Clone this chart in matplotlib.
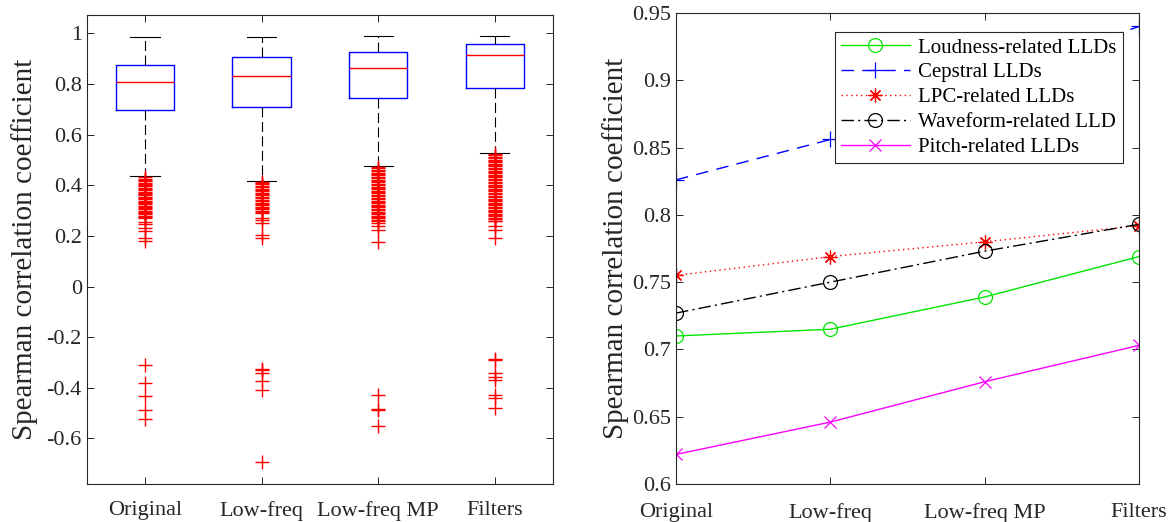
import matplotlib
matplotlib.use("Agg")
import matplotlib.pyplot as plt
import numpy as np

plt.rcParams['font.family'] = ['Liberation Serif', 'DejaVu Serif']
plt.rcParams['axes.unicode_minus'] = False

# ---------------- data ----------------
categories = ['Original', 'Low-freq', 'Low-freq MP', 'Filters']

# box statistics (left panel)
box_whishi = [0.987, 0.988, 0.991, 0.992]
box_q3 = [0.874, 0.907, 0.926, 0.958]
box_med = [0.807, 0.832, 0.863, 0.914]
box_q1 = [0.699, 0.711, 0.745, 0.784]
box_whislo = [0.435, 0.418, 0.476, 0.528]

fliers_original = [0.431, 0.426, 0.42, 0.416, 0.411, 0.405, 0.40, 0.396, 0.39, 0.386, 0.381,
                   0.375, 0.37, 0.366, 0.36, 0.355, 0.35, 0.346, 0.34, 0.336, 0.33, 0.325,
                   0.32, 0.316, 0.31, 0.305, 0.30, 0.296, 0.29, 0.285, 0.28, 0.276, 0.271,
                   0.254, 0.246, 0.232, 0.219, 0.193, 0.181,
                   -0.31, -0.38, -0.433, -0.487, -0.525]
fliers_lowfreq = [0.414, 0.409, 0.404, 0.398, 0.393, 0.387, 0.382, 0.376, 0.371, 0.365, 0.36,
                  0.354, 0.349, 0.343, 0.338, 0.332, 0.327, 0.321, 0.316, 0.31, 0.305, 0.299,
                  0.294, 0.291, 0.271, 0.264, 0.251, 0.203, 0.192,
                  -0.324, -0.33, -0.341, -0.374, -0.409, -0.694]
fliers_lowfreq_mp = [0.472, 0.467, 0.461, 0.456, 0.45, 0.445, 0.439, 0.434, 0.428, 0.423, 0.417,
                     0.412, 0.406, 0.401, 0.395, 0.39, 0.384, 0.379, 0.373, 0.368, 0.362, 0.357,
                     0.351, 0.346, 0.34, 0.335, 0.329, 0.324, 0.318, 0.313, 0.307, 0.302, 0.296,
                     0.291, 0.285, 0.28, 0.274, 0.269, 0.263, 0.258, 0.251,
                     0.238, 0.225, 0.176,
                     -0.43, -0.482, -0.486, -0.549]
fliers_filters = [0.524, 0.519, 0.513, 0.508, 0.502, 0.497, 0.491, 0.486, 0.48, 0.475, 0.469,
                  0.464, 0.458, 0.453, 0.447, 0.442, 0.436, 0.431, 0.425, 0.42, 0.414, 0.409,
                  0.403, 0.398, 0.392, 0.387, 0.381, 0.376, 0.37, 0.365, 0.359, 0.354, 0.348,
                  0.343, 0.337, 0.332, 0.326, 0.321, 0.315, 0.31, 0.304, 0.299, 0.293, 0.288,
                  0.282, 0.277, 0.271, 0.266, 0.26, 0.258,
                  0.238, 0.225, 0.192,
                  -0.286, -0.289, -0.341, -0.357, -0.371, -0.43, -0.441, -0.478]
fliers_all = [fliers_original, fliers_lowfreq, fliers_lowfreq_mp, fliers_filters]

left_yticks = [-0.6, -0.4, -0.2, 0, 0.2, 0.4, 0.6, 0.8, 1]
left_yticklabels = ['-0.6', '-0.4', '-0.2', '0', '0.2', '0.4', '0.6', '0.8', '1']

# line series (right panel)
loudness = [0.710, 0.715, 0.739, 0.769]
cepstral = [0.826, 0.856, 0.900, 0.940]
lpc = [0.755, 0.769, 0.780, 0.792]
waveform = [0.727, 0.750, 0.773, 0.793]
pitch = [0.622, 0.646, 0.676, 0.703]
series_labels = ['Loudness-related LLDs', 'Cepstral LLDs', 'LPC-related LLDs',
                 'Waveform-related LLD', 'Pitch-related LLDs']

right_yticks = [0.6, 0.65, 0.7, 0.75, 0.8, 0.85, 0.9, 0.95]
right_yticklabels = ['0.6', '0.65', '0.7', '0.75', '0.8', '0.85', '0.9', '0.95']

# ---------------- figure ----------------
W, H = 1173, 522
fig = plt.figure(figsize=(W / 100, H / 100), dpi=100)

axc = '#262626'
tick_fs = 16
label_fs = 21
legend_fs = 15


def style_axes(ax):
    for s in ax.spines.values():
        s.set_color(axc)
        s.set_linewidth(0.8)
    ax.tick_params(direction='in', top=True, right=True, length=5, width=0.7,
                   colors=axc, labelsize=tick_fs, labelcolor=axc)


# Left panel
ax1 = fig.add_axes([86.7 / W, 1 - 484 / H, (553 - 86.7) / W, (484 - 14.5) / H])
stats = []
for i in range(4):
    stats.append(dict(med=box_med[i], q1=box_q1[i], q3=box_q3[i],
                      whislo=box_whislo[i], whishi=box_whishi[i],
                      fliers=fliers_all[i]))
ax1.bxp(stats, positions=[1, 2, 3, 4], widths=0.5, capwidths=0.25,
        boxprops=dict(color='blue', linewidth=1.0),
        medianprops=dict(color='red', linewidth=1.0),
        whiskerprops=dict(color='black', linewidth=0.8, linestyle=(0, (9, 4))),
        capprops=dict(color='black', linewidth=0.8),
        flierprops=dict(marker='+', markeredgecolor='red', markersize=9.5,
                        markeredgewidth=1.0, linestyle='none'))
ax1.set_xlim(0.5, 4.5)
ax1.set_ylim(-0.78, 1.075)
ax1.set_yticks(left_yticks)
ax1.set_yticklabels(left_yticklabels)
ax1.set_xticks([1, 2, 3, 4])
ax1.set_xticklabels(categories)
style_axes(ax1)
ax1.tick_params(axis='x', pad=12)
ax1.set_ylabel('Spearman correlation coefficient', fontsize=label_fs, color=axc, labelpad=6)

# Right panel
ax2 = fig.add_axes([676 / W, 1 - 484 / H, (1139 - 676) / W, (484 - 13) / H])
x = np.arange(1, 5)
lw = 1.0
ax2.plot(x, loudness, color=(0, 0.9, 0), linestyle='-', marker='o', markersize=10,
         markerfacecolor='none', markeredgewidth=0.9, linewidth=lw, label=series_labels[0])
ax2.plot(x, cepstral, color='blue', linestyle=(0, (9, 6)), marker='+', markersize=11,
         markeredgewidth=0.9, linewidth=lw, label=series_labels[1])
ax2.plot(x, lpc, color='red', linestyle=(0, (1, 2.5)), marker=(8, 2, 0), markersize=10,
         markeredgewidth=0.9, linewidth=lw, label=series_labels[2])
ax2.plot(x, waveform, color='black', linestyle=(0, (9, 3, 1.5, 3)), marker='o', markersize=10,
         markerfacecolor='none', markeredgewidth=0.9, linewidth=lw, label=series_labels[3])
ax2.plot(x, pitch, color=(1, 0, 1), linestyle='-', marker='x', markersize=8,
         markeredgewidth=0.9, linewidth=lw, label=series_labels[4])
ax2.set_xlim(1, 4)
ax2.set_ylim(0.6, 0.95)
ax2.set_yticks(right_yticks)
ax2.set_yticklabels(right_yticklabels)
ax2.set_xticks([1, 2, 3, 4])
ax2.set_xticklabels(categories)
style_axes(ax2)
ax2.tick_params(axis='x', pad=14)
ax2.set_ylabel('Spearman correlation coefficient', fontsize=label_fs, color=axc, labelpad=2)
for sp in ax2.spines.values():
    sp.set_zorder(5)
leg = ax2.legend(loc='upper right', bbox_to_anchor=(0.965, 0.960), borderaxespad=0,
                 fontsize=legend_fs, handlelength=3.3, labelspacing=0.25,
                 fancybox=False, framealpha=1, edgecolor=axc, borderpad=0.3,
                 handletextpad=0.4)
leg.get_frame().set_linewidth(0.8)
for t in leg.get_texts():
    t.set_color('black')

fig.savefig('out.png', dpi=100)
